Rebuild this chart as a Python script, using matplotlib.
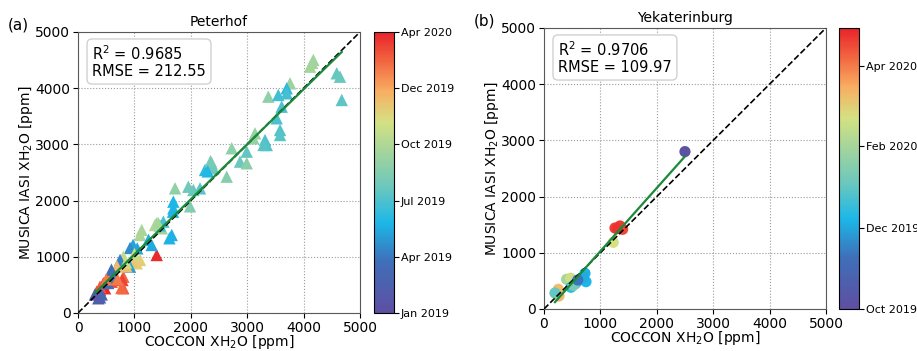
import numpy as np
import matplotlib
matplotlib.use("Agg")
import matplotlib.pyplot as plt
import matplotlib.dates as mdates
from matplotlib.colors import LinearSegmentedColormap

# Peterhof: COCCON vs MUSICA IASI XH2O [ppm], coloured by date
pet_x = [4172, 4113, 4150, 3759, 4587, 4645, 4676, 3374, 3551, 3700,
         3700, 3611, 3522, 3582, 3582, 3138, 3109, 3316, 3346, 3290,
         2725, 2991, 2872, 2991, 2636, 2370, 2340, 2400, 2252, 2350,
         2300, 1956, 2045, 2163, 1720, 1690, 1690, 1986, 1395, 1484,
         1513, 1661, 1620, 1450, 1684, 1395, 1306, 1129, 1099, 1365,
         1420, 975, 922, 1050, 804, 1099, 1040, 952, 745, 804,
         787, 922, 804, 567, 597, 449, 390, 479, 390, 360,
         390, 626, 769, 690, 592, 533, 858, 850, 1000, 700,
         500, 330, 420, 1250, 300]
pet_y = [4502, 4383, 4450, 4087, 4265, 4205, 3790, 3849, 3879, 3998,
         3909, 3671, 3464, 3256, 3167, 3197, 3108, 3078, 2989, 2990,
         2931, 2871, 2693, 2664, 2426, 2664, 2603, 2574, 2545, 2700,
         2520, 2247, 2189, 2218, 2218, 1981, 1863, 1898, 1596, 1507,
         1625, 1388, 1330, 1560, 1803, 1032, 1210, 1477, 1388, 1566,
         1601, 1210, 1157, 1150, 1002, 943, 884, 913, 943, 646,
         587, 824, 440, 676, 557, 528, 409, 440, 468, 262,
         279, 646, 445, 830, 771, 534, 830, 900, 1050, 600,
         600, 380, 330, 1300, 330]
pet_date = ["2019-09-18", "2019-09-20", "2019-09-19", "2019-09-12", "2019-07-20",
            "2019-07-22", "2019-07-15", "2019-09-02", "2019-06-25", "2019-06-10",
            "2019-06-28", "2019-07-01", "2019-06-30", "2019-07-08", "2019-07-09",
            "2019-09-08", "2019-09-06", "2019-07-03", "2019-07-04", "2019-07-12",
            "2019-08-28", "2019-07-18", "2019-07-25", "2019-08-25", "2019-08-20",
            "2019-08-15", "2019-08-12", "2019-07-28", "2019-06-05", "2019-08-05",
            "2019-06-01", "2019-07-30", "2019-07-26", "2019-07-14", "2019-08-30",
            "2019-05-28", "2019-05-30", "2019-08-18", "2019-09-10", "2019-09-14",
            "2019-07-02", "2019-05-20", "2019-05-22", "2019-06-12", "2019-05-25",
            "2020-03-25", "2019-05-15", "2019-09-25", "2019-09-28", "2019-10-01",
            "2019-09-22", "2019-05-10", "2019-04-20", "2019-05-12", "2019-10-20",
            "2019-11-25", "2019-11-28", "2019-12-05", "2019-04-10", "2020-02-15",
            "2020-03-10", "2019-05-05", "2020-02-20", "2020-02-05", "2020-03-05",
            "2020-03-15", "2020-03-18", "2020-03-28", "2020-02-25", "2019-01-20",
            "2019-02-15", "2019-04-05", "2020-02-12", "2019-12-15", "2019-03-20",
            "2019-03-25", "2019-12-10", "2019-10-28", "2019-10-24", "2020-02-01",
            "2020-01-30", "2020-02-28", "2019-02-28", "2019-05-18", "2019-01-28"]

# Yekaterinburg
yek_x = [2500, 1259, 1348, 1395, 1300, 1229, 727, 745, 700, 402,
         473, 479, 560, 600, 254, 266, 195, 520, 600]
yek_y = [2800, 1441, 1477, 1418, 1430, 1186, 635, 486, 560, 528,
         546, 386, 450, 500, 350, 231, 285, 420, 516]
yek_date = ["2019-10-05", "2020-04-20", "2020-04-22", "2020-04-18", "2020-04-25",
            "2020-02-22", "2019-12-05", "2019-12-08", "2019-12-03", "2020-02-01",
            "2020-02-18", "2019-12-15", "2020-01-06", "2019-12-12", "2020-03-10",
            "2020-03-12", "2020-01-02", "2020-01-10", "2019-11-10"]

stats = [("0.9685", "212.55"), ("0.9706", "109.97")]
titles = ["Peterhof", "Yekaterinburg"]
panel_tags = ["(a)", "(b)"]

cmap = LinearSegmentedColormap.from_list("dates", [
    (0.00, "#5e4fa2"), (0.18, "#3f6fb8"), (0.32, "#1cb7e8"),
    (0.45, "#6cc8bc"), (0.58, "#a6d59a"), (0.68, "#d4e183"),
    (0.79, "#f8ae62"), (0.90, "#f26440"), (1.00, "#e8232a")])

fig = plt.figure(figsize=(9.17, 3.51), dpi=100)
ax_pos = [[0.0851, 0.1083, 0.3075, 0.8006], [0.5932, 0.1197, 0.3075, 0.8006]]
cb_pos = [[0.4079, 0.1083, 0.0218, 0.8006], [0.9149, 0.1197, 0.0218, 0.8006]]

datasets = [(pet_x, pet_y, pet_date, "^", 80, ("2019-01-01", "2020-04-01")),
            (yek_x, yek_y, yek_date, "o", 65, ("2019-10-01", "2020-04-30"))]

for i, (xs, ys, ds, mk, sz, lims) in enumerate(datasets):
    ax = fig.add_axes(ax_pos[i])
    cax = fig.add_axes(cb_pos[i])
    xs = np.array(xs, dtype=float)
    ys = np.array(ys, dtype=float)
    dn = mdates.datestr2num(ds)
    vmin, vmax = mdates.datestr2num(lims[0]), mdates.datestr2num(lims[1])

    ax.grid(True, linestyle=":", color="0.6", linewidth=0.8)
    ax.set_axisbelow(True)
    sc = ax.scatter(xs, ys, c=dn, cmap=cmap, vmin=vmin, vmax=vmax,
                    marker=mk, s=sz, edgecolors="none", zorder=2)
    ax.plot([0, 5000], [0, 5000], "k--", linewidth=1.2, zorder=3)
    p = np.polyfit(xs, ys, 1)
    xf = np.array([xs.min(), xs.max()])
    ax.plot(xf, np.polyval(p, xf), color="#1a8a3a", linewidth=1.6, zorder=3)

    ax.set_xlim(0, 5000)
    ax.set_ylim(0, 5000)
    ax.set_xticks(range(0, 5001, 1000))
    ax.set_yticks(range(0, 5001, 1000))
    ax.tick_params(labelsize=10, pad=2)
    ax.set_xlabel("COCCON XH$_2$O [ppm]", fontsize=10, labelpad=-1)
    ax.set_ylabel("MUSICA IASI XH$_2$O [ppm]", fontsize=10, labelpad=0)
    ax.set_title(titles[i], fontsize=10, pad=4)
    for sp in ax.spines.values():
        sp.set_color("0.35")
    ax.text(0.05, 0.957, "R$^2$ = %s\nRMSE = %s" % stats[i],
            transform=ax.transAxes, va="top", ha="left", fontsize=10.5,
            linespacing=1.1,
            bbox=dict(boxstyle="round,pad=0.35", fc="white", ec="0.82"))
    ax.text(-0.25, 1.01, panel_tags[i], transform=ax.transAxes, fontsize=11)

    cb = fig.colorbar(sc, cax=cax)
    if i == 0:
        cb.set_ticks(np.linspace(vmin, vmax, 6))
    else:
        cb.set_ticks(mdates.datestr2num(["2019-10-01", "2019-12-01",
                                         "2020-02-01", "2020-04-01"]))
    cb.ax.yaxis.set_major_formatter(mdates.DateFormatter("%b %Y"))
    cb.ax.tick_params(labelsize=8, pad=1.5)

fig.savefig("out.png", dpi=100)
